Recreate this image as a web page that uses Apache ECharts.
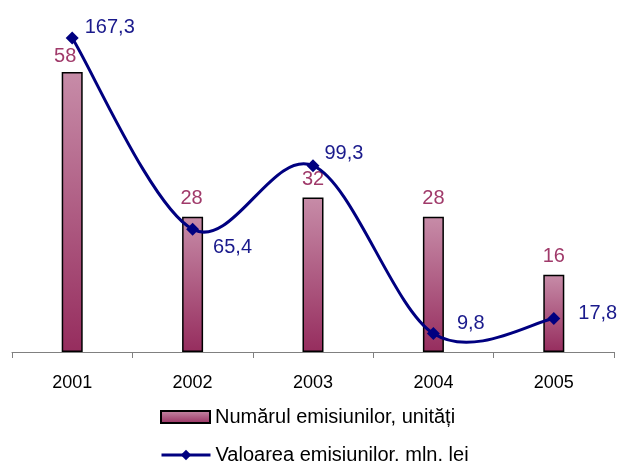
<!DOCTYPE html>
<html>
<head>
<meta charset="utf-8">
<script src="https://cdn.jsdelivr.net/npm/echarts@6/dist/echarts.min.js"></script>
<style>html,body{margin:0;padding:0;background:#fff}#c{width:617px;height:461px}</style>
</head>
<body>
<div id="c"></div>
<script>
var categories = ['2001', '2002', '2003', '2004', '2005'];
var emissionsCount = [58, 28, 32, 28, 16];
var emissionsValue = [167.3, 65.4, 99.3, 9.8, 17.8];
var seriesNames = ['Numărul emisiunilor, unități', 'Valoarea emisiunilor. mln. lei'];

var barLabelOffsets = [[-7, 2], [-1, 0], [0, 0], [0, 0], [0, 0]];
var lineLabelOffsets = [[-2, -11], [6, 18], [-3, -12], [9, -10], [10, -5]];
var fmt = function (v) { return String(v).replace('.', ','); };

var chart = echarts.init(document.getElementById('c'), null, {renderer: 'canvas'});
var font = 'Arial, "Liberation Sans", sans-serif';
var navy = '#000080';

// Catmull-Rom style smoothing (tangent = (next - prev) / 6), as in spreadsheet charts
function renderCurve(params, api) {
  var i = params.dataIndex;
  var n = emissionsValue.length;
  if (i >= n - 1) return null;
  var P = function (k) {
    k = Math.max(0, Math.min(n - 1, k));
    return api.coord([k, emissionsValue[k]]);
  };
  var p0 = P(i - 1), p1 = P(i), p2 = P(i + 1), p3 = P(i + 2);
  var c1 = [p1[0] + (p2[0] - p0[0]) / 6, p1[1] + (p2[1] - p0[1]) / 6];
  var c2 = [p2[0] - (p3[0] - p1[0]) / 6, p2[1] - (p3[1] - p1[1]) / 6];
  return {
    type: 'bezierCurve',
    shape: {x1: p1[0], y1: p1[1], x2: p2[0], y2: p2[1],
            cpx1: c1[0], cpy1: c1[1], cpx2: c2[0], cpy2: c2[1]},
    style: {stroke: navy, lineWidth: 3, fill: null, lineCap: 'round'},
    silent: true
  };
}

chart.setOption({
  animation: false,
  backgroundColor: '#ffffff',
  grid: {left: 12, right: 3, top: 20, bottom: 109},
  xAxis: {
    type: 'category',
    data: categories,
    boundaryGap: true,
    axisLine: {lineStyle: {color: '#808080', width: 1}},
    axisTick: {show: true, length: 6, lineStyle: {color: '#808080'}},
    axisLabel: {color: '#000', fontSize: 18, fontFamily: font, margin: 22}
  },
  yAxis: [
    {type: 'value', min: 0, max: 68.77, show: false, splitLine: {show: false}},
    {type: 'value', min: 0, max: 176.9, show: false, splitLine: {show: false}}
  ],
  legend: [
    {
      left: 155, top: 402, itemWidth: 49, itemHeight: 12, itemGap: 0,
      textStyle: {fontSize: 20, fontFamily: font, color: '#000'},
      data: [{name: seriesNames[0], icon: 'rect'}]
    },
    {
      left: 155, top: 440, itemWidth: 49, itemHeight: 13, itemGap: 0,
      textStyle: {fontSize: 20, fontFamily: font, color: '#000'},
      data: [{name: seriesNames[1], lineStyle: {opacity: 1, color: navy, width: 3}}]
    }
  ],
  series: [
    {
      name: seriesNames[0],
      type: 'bar',
      yAxisIndex: 0,
      barWidth: 21,
      data: emissionsCount.map(function (v, i) {
        return {value: v, label: {offset: barLabelOffsets[i]}};
      }),
      itemStyle: {
        color: new echarts.graphic.LinearGradient(0, 0, 0, 1, [
          {offset: 0, color: '#c78ca8'},
          {offset: 1, color: '#962d5e'}
        ]),
        borderColor: '#000',
        borderWidth: 1.5
      },
      label: {
        show: true, position: 'top', distance: 8,
        color: '#a03a6a', fontSize: 20, fontFamily: font
      }
    },
    {
      name: 'curve',
      type: 'custom',
      yAxisIndex: 1,
      data: emissionsValue,
      renderItem: renderCurve,
      z: 4
    },
    {
      name: seriesNames[1],
      type: 'line',
      yAxisIndex: 1,
      smooth: false,
      symbol: 'diamond',
      symbolSize: 13,
      data: emissionsValue.map(function (v, i) {
        return {value: v, label: {offset: lineLabelOffsets[i]}};
      }),
      lineStyle: {color: navy, width: 3, opacity: 0},
      itemStyle: {color: navy},
      label: {
        show: true, position: 'right', distance: 8,
        color: '#1a1a8c', fontSize: 20, fontFamily: font,
        formatter: function (p) { return fmt(p.value); }
      },
      z: 5
    }
  ]
});
</script>
</body>
</html>
